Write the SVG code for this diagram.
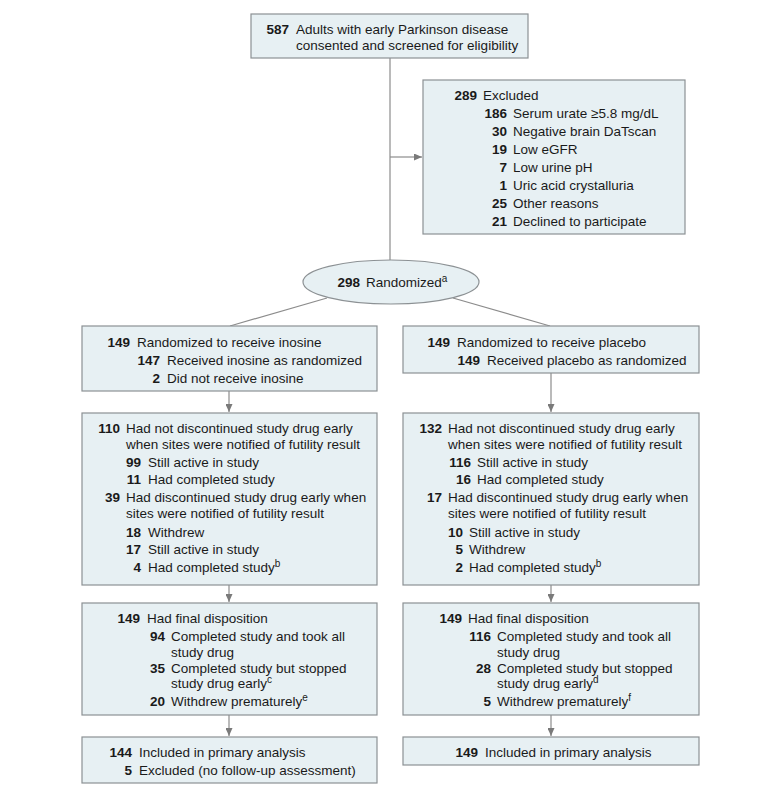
<svg xmlns="http://www.w3.org/2000/svg" width="780" height="796" viewBox="0 0 780 796">
<style>
text{font-family:"Liberation Sans",Arial,sans-serif;font-size:13.5px;fill:#1a1a1a}
.n{font-weight:bold;text-anchor:end}
.box{fill:#e7f0f3;stroke:#8c9194;stroke-width:1.2}
.ln{stroke:#8c8c8c;stroke-width:1.2;fill:none}
.s{font-size:10px}
</style>
<defs>
<marker id="ah" markerUnits="userSpaceOnUse" markerWidth="8" markerHeight="7" refX="8" refY="3.5" orient="auto">
<path d="M0,0 L8,3.5 L0,7 z" fill="#7a7a7a"/>
</marker>
</defs>
<g id="connectors">
<line class="ln" x1="390" y1="58" x2="390" y2="260"/>
<line class="ln" x1="390" y1="157" x2="422" y2="157" marker-end="url(#ah)"/>
<line class="ln" x1="327" y1="298" x2="230" y2="326"/>
<line class="ln" x1="453" y1="298" x2="550" y2="326"/>
<line class="ln" x1="229" y1="391" x2="229" y2="412" marker-end="url(#ah)"/>
<line class="ln" x1="551" y1="373" x2="551" y2="412" marker-end="url(#ah)"/>
<line class="ln" x1="229" y1="585" x2="229" y2="602" marker-end="url(#ah)"/>
<line class="ln" x1="551" y1="585" x2="551" y2="602" marker-end="url(#ah)"/>
<line class="ln" x1="229" y1="715" x2="229" y2="736" marker-end="url(#ah)"/>
<line class="ln" x1="551" y1="715" x2="551" y2="736" marker-end="url(#ah)"/>
</g>
<g id="screened">
<rect class="box" x="251" y="14" width="277" height="44"/>
<text class="n" x="289" y="33.5">587</text>
<text x="296" y="33.5">Adults with early Parkinson disease</text>
<text x="296" y="49.5">consented and screened for eligibility</text>
</g>
<g id="excluded">
<rect class="box" x="423" y="80" width="262" height="154"/>
<text class="n" x="477" y="99.5">289</text><text x="483" y="99.5">Excluded</text>
<text class="n" x="507" y="117.5">186</text><text x="513" y="117.5">Serum urate ≥5.8 mg/dL</text>
<text class="n" x="507" y="135.5">30</text><text x="513" y="135.5">Negative brain DaTscan</text>
<text class="n" x="507" y="153.5">19</text><text x="513" y="153.5">Low eGFR</text>
<text class="n" x="507" y="171.5">7</text><text x="513" y="171.5">Low urine pH</text>
<text class="n" x="507" y="189.5">1</text><text x="513" y="189.5">Uric acid crystalluria</text>
<text class="n" x="507" y="207.5">25</text><text x="513" y="207.5">Other reasons</text>
<text class="n" x="507" y="225.5">21</text><text x="513" y="225.5">Declined to participate</text>
</g>
<g id="randomized">
<ellipse class="box" cx="391" cy="282" rx="88" ry="22"/>
<text class="n" x="360" y="286.5">298</text>
<text x="366" y="286.5">Randomized<tspan class="s" dy="-5">a</tspan></text>
</g>
<g id="inosine-alloc">
<rect class="box" x="82" y="326" width="295" height="65"/>
<text class="n" x="130" y="346.5">149</text><text x="137" y="346.5">Randomized to receive inosine</text>
<text class="n" x="160" y="364.5">147</text><text x="167" y="364.5">Received inosine as randomized</text>
<text class="n" x="160" y="382.5">2</text><text x="167" y="382.5">Did not receive inosine</text>
</g>
<g id="placebo-alloc">
<rect class="box" x="403" y="326" width="296" height="47"/>
<text class="n" x="450" y="346.5">149</text><text x="457" y="346.5">Randomized to receive placebo</text>
<text class="n" x="480" y="364.5">149</text><text x="487" y="364.5">Received placebo as randomized</text>
</g>
<g id="inosine-status">
<rect class="box" x="82" y="413" width="295" height="172"/>
<text class="n" x="120" y="432.5">110</text><text x="126" y="432.5">Had not discontinued study drug early</text>
<text x="126" y="448.5">when sites were notified of futility result</text>
<text class="n" x="141" y="466.5">99</text><text x="148" y="466.5">Still active in study</text>
<text class="n" x="141" y="483.5">11</text><text x="148" y="483.5">Had completed study</text>
<text class="n" x="120" y="501.5">39</text><text x="126" y="501.5">Had discontinued study drug early when</text>
<text x="126" y="517.5">sites were notified of futility result</text>
<text class="n" x="141" y="536.5">18</text><text x="148" y="536.5">Withdrew</text>
<text class="n" x="141" y="553.5">17</text><text x="148" y="553.5">Still active in study</text>
<text class="n" x="141" y="571.5">4</text><text x="148" y="571.5">Had completed study<tspan class="s" dy="-5">b</tspan></text>
</g>
<g id="placebo-status">
<rect class="box" x="403" y="413" width="296" height="172"/>
<text class="n" x="442" y="432.5">132</text><text x="448" y="432.5">Had not discontinued study drug early</text>
<text x="448" y="448.5">when sites were notified of futility result</text>
<text class="n" x="471" y="466.5">116</text><text x="477" y="466.5">Still active in study</text>
<text class="n" x="471" y="483.5">16</text><text x="477" y="483.5">Had completed study</text>
<text class="n" x="442" y="501.5">17</text><text x="448" y="501.5">Had discontinued study drug early when</text>
<text x="448" y="517.5">sites were notified of futility result</text>
<text class="n" x="463" y="536.5">10</text><text x="469" y="536.5">Still active in study</text>
<text class="n" x="463" y="553.5">5</text><text x="469" y="553.5">Withdrew</text>
<text class="n" x="463" y="571.5">2</text><text x="469" y="571.5">Had completed study<tspan class="s" dy="-5">b</tspan></text>
</g>
<g id="inosine-final">
<rect class="box" x="82" y="603" width="295" height="112"/>
<text class="n" x="140" y="622.5">149</text><text x="147" y="622.5">Had final disposition</text>
<text class="n" x="165" y="640.5">94</text><text x="171" y="640.5">Completed study and took all</text>
<text x="171" y="656.5">study drug</text>
<text class="n" x="165" y="672.5">35</text><text x="171" y="672.5">Completed study but stopped</text>
<text x="171" y="688">study drug early<tspan class="s" dy="-5">c</tspan></text>
<text class="n" x="165" y="705.5">20</text><text x="171" y="705.5">Withdrew prematurely<tspan class="s" dy="-5">e</tspan></text>
</g>
<g id="placebo-final">
<rect class="box" x="403" y="603" width="296" height="112"/>
<text class="n" x="462" y="622.5">149</text><text x="468" y="622.5">Had final disposition</text>
<text class="n" x="491" y="640.5">116</text><text x="497" y="640.5">Completed study and took all</text>
<text x="497" y="656.5">study drug</text>
<text class="n" x="491" y="672.5">28</text><text x="497" y="672.5">Completed study but stopped</text>
<text x="497" y="688">study drug early<tspan class="s" dy="-5">d</tspan></text>
<text class="n" x="491" y="705.5">5</text><text x="497" y="705.5">Withdrew prematurely<tspan class="s" dy="-5">f</tspan></text>
</g>
<g id="inosine-analysis">
<rect class="box" x="82" y="737" width="295" height="46"/>
<text class="n" x="132" y="756.5">144</text><text x="139" y="756.5">Included in primary analysis</text>
<text class="n" x="132" y="775">5</text><text x="139" y="775">Excluded (no follow-up assessment)</text>
</g>
<g id="placebo-analysis">
<rect class="box" x="403" y="737" width="296" height="28"/>
<text class="n" x="478" y="756.5">149</text><text x="485" y="756.5">Included in primary analysis</text>
</g>
</svg>
